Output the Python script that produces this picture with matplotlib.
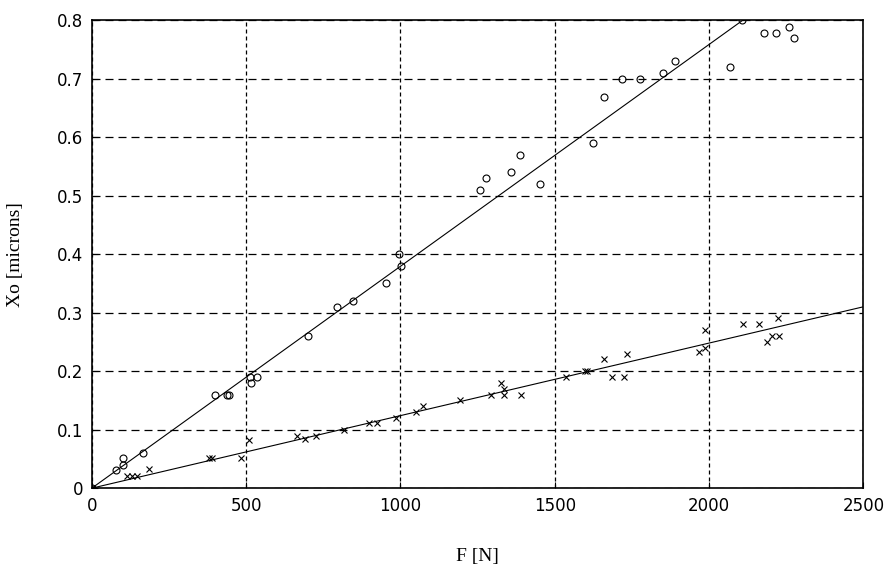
import numpy as np
import matplotlib.pyplot as plt

# circle series (upper)
f_o = [0, 80, 100, 100, 165, 400, 439, 445, 513, 516, 535, 700, 794, 845, 952,
       994, 1003, 1258, 1277, 1358, 1387, 1452, 1623, 1658, 1719, 1777, 1852,
       1890, 2068, 2106, 2177, 2216, 2258, 2274]
x_o = [0, 0.031, 0.039, 0.051, 0.06, 0.159, 0.159, 0.159, 0.19, 0.18, 0.19,
       0.26, 0.309, 0.32, 0.35, 0.40, 0.38, 0.51, 0.53, 0.54, 0.57, 0.52, 0.59,
       0.668, 0.70, 0.70, 0.71, 0.73, 0.72, 0.80, 0.778, 0.778, 0.788, 0.77]

# cross series (lower)
f_x = [0, 113, 130, 145, 187, 381, 390, 484, 510, 665, 690, 726, 816, 897,
       923, 987, 1052, 1074, 1194, 1294, 1326, 1335, 1335, 1390, 1535, 1597,
       1606, 1658, 1684, 1726, 1735, 1968, 1987, 1987, 2110, 2161, 2187, 2203,
       2225, 2222]
x_x = [0, 0.02, 0.02, 0.02, 0.032, 0.051, 0.051, 0.051, 0.082, 0.089, 0.084,
       0.089, 0.10, 0.111, 0.111, 0.12, 0.13, 0.14, 0.15, 0.16, 0.18, 0.17,
       0.16, 0.16, 0.19, 0.20, 0.20, 0.22, 0.19, 0.19, 0.23, 0.232, 0.24, 0.27,
       0.28, 0.28, 0.25, 0.26, 0.26, 0.29]

# fitted slopes (microns per N), lines through the origin
slope_o = 0.80 / 2110
slope_x = 0.31 / 2500

fig = plt.figure(figsize=(8.91, 5.73), dpi=100)
ax = fig.add_axes([0.103, 0.148, 0.866, 0.817])

fline = np.array([0, 2500])
ax.plot(fline, slope_o * fline, color='black', linewidth=0.8)
ax.plot(fline, slope_x * fline, color='black', linewidth=0.8)

ax.plot(f_o, x_o, linestyle='none', marker='o', markersize=5,
        markerfacecolor='none', markeredgecolor='black', markeredgewidth=0.8)
ax.plot(f_x, x_x, linestyle='none', marker='x', markersize=4.5,
        color='black', markeredgewidth=0.8)

ax.set_xlim(0, 2500)
ax.set_ylim(0, 0.8)
ax.set_xticks([0, 500, 1000, 1500, 2000, 2500])
ax.set_xticklabels(['0', '500', '1000', '1500', '2000', '2500'])
ax.set_yticks(np.arange(0, 0.81, 0.1))
ax.set_yticklabels(['0', '0.1', '0.2', '0.3', '0.4', '0.5', '0.6', '0.7', '0.8'])
# vertical grid: short dashes, horizontal grid: longer dashes
ax.xaxis.grid(True, color='black', linestyle=(0, (3.2, 2.4)), linewidth=0.9)
ax.yaxis.grid(True, color='black', linestyle=(0, (6.4, 4)), linewidth=0.9)
ax.tick_params(direction='in', length=4, labelsize=12, colors='black', pad=6)
for s in ax.spines.values():
    s.set_linewidth(1.2)

ax.set_xlabel('F [N]', family='Liberation Serif', fontsize=14, labelpad=24)
ax.set_ylabel('Xo [microns]', family='Liberation Serif', fontsize=14, labelpad=24)

fig.savefig('out.png', dpi=100, facecolor='white')
